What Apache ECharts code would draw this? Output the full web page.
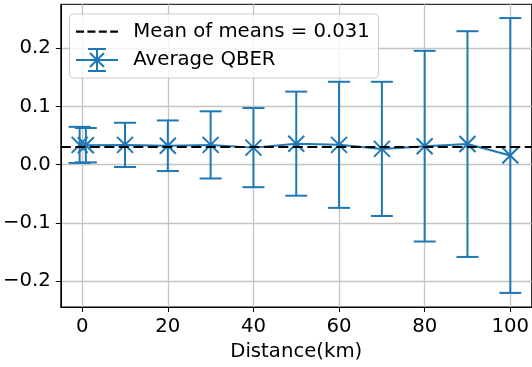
<!DOCTYPE html>
<html>
<head>
<meta charset="utf-8">
<script src="https://cdn.jsdelivr.net/npm/echarts@6/dist/echarts.min.js"></script>
<style>html,body{margin:0;padding:0;background:#fff}#c{width:532px;height:367px}</style>
</head>
<body>
<div id="c"></div>
<script>
// ---- data ----
const distances = [-0.6, 0.85, 10, 20, 30, 40, 50, 60, 70, 80, 90, 100];
const meanQBER  = [0.034, 0.0335, 0.034, 0.0325, 0.034, 0.0293, 0.0361, 0.0341, 0.0271, 0.0318, 0.0354, 0.0158];
const stdQBER   = [0.031, 0.0295, 0.038, 0.0435, 0.0577, 0.068, 0.0894, 0.1083, 0.1153, 0.1638, 0.1939, 0.2361];
const meanOfMeans = 0.031;
const xTicks = [0, 20, 40, 60, 80, 100];
const yTicks = [-0.2, -0.1, 0.0, 0.1, 0.2];
const legendLabels = ['Mean of means = 0.031', 'Average QBER'];
const xName = 'Distance(km)';

const BLUE = '#1f77b4';
const FONT = 'DejaVu Sans';
const FS = 19.7;

const pts = distances.map((d, i) => [d, meanQBER[i]]);
const errData = distances.map((d, i) => [d, meanQBER[i], stdQBER[i]]);

function fmtY(v) {
  const s = Math.abs(v).toFixed(1);
  return v < -1e-9 ? '\u2212' + s : s;
}

const chart = echarts.init(document.getElementById('c'), null, {renderer: 'canvas'});
const LX = 69.5, LY = 14, LW = 309, LH = 64;
chart.setOption({
  animation: false,
  backgroundColor: '#fff',
  grid: {
    left: 59.1, top: 4.3, width: 474.9, height: 308.4,
    show: true, borderColor: '#000', borderWidth: 1, backgroundColor: 'transparent'
  },
  xAxis: {
    type: 'value', min: -5, max: 105,
    name: xName, nameLocation: 'middle', nameGap: 35,
    nameTextStyle: {fontFamily: FONT, fontSize: FS, color: '#000'},
    axisLine: {show: true, onZero: false, lineStyle: {color: '#000', width: 1}},
    axisTick: {show: true, length: 5, lineStyle: {color: '#000'}, customValues: xTicks},
    axisLabel: {fontFamily: FONT, fontSize: FS, color: '#000', margin: 10, customValues: xTicks,
                formatter: v => String(Math.round(v))},
    splitLine: {show: true, lineStyle: {color: '#c4c4c4', width: 1.3}}
  },
  yAxis: {
    type: 'value', min: -0.24452, max: 0.27555,
    axisLine: {show: true, onZero: false, lineStyle: {color: '#000', width: 1}},
    axisTick: {show: true, length: 5, lineStyle: {color: '#000'}, customValues: yTicks},
    axisLabel: {fontFamily: FONT, fontSize: FS, color: '#000', margin: 10, customValues: yTicks,
                formatter: fmtY},
    splitLine: {show: true, lineStyle: {color: '#c4c4c4', width: 1.3}}
  },
  series: [
    {
      type: 'line', data: pts, showSymbol: false, silent: true, z: 3,
      lineStyle: {color: BLUE, width: 2},
      markLine: {
        silent: true, symbol: ['none', 'none'], label: {show: false},
        lineStyle: {color: '#000', width: 2.2, type: [10, 4.5]},
        data: [{yAxis: meanOfMeans}]
      }
    },
    {
      type: 'custom', data: errData, silent: true, z: 4,
      renderItem: function (params, api) {
        const x = api.value(0), m = api.value(1), e = api.value(2);
        const c = api.coord([x, m]);
        const t = api.coord([x, m + e]);
        const b = api.coord([x, m - e]);
        const cap = 11, mk = 8;
        const st = {stroke: BLUE, lineWidth: 2, fill: null};
        return {
          type: 'group',
          children: [
            {type: 'line', shape: {x1: t[0], y1: t[1], x2: b[0], y2: b[1]}, style: st},
            {type: 'line', shape: {x1: t[0] - cap, y1: t[1], x2: t[0] + cap, y2: t[1]}, style: st},
            {type: 'line', shape: {x1: b[0] - cap, y1: b[1], x2: b[0] + cap, y2: b[1]}, style: st},
            {type: 'line', shape: {x1: c[0] - mk, y1: c[1] - mk, x2: c[0] + mk, y2: c[1] + mk}, style: st},
            {type: 'line', shape: {x1: c[0] - mk, y1: c[1] + mk, x2: c[0] + mk, y2: c[1] - mk}, style: st}
          ]
        };
      }
    }
  ],
  graphic: [
    {type: 'rect', z: 100, shape: {x: LX, y: LY, width: LW, height: LH, r: 4},
     style: {fill: 'rgba(255,255,255,0.8)', stroke: '#cccccc', lineWidth: 1}},
    {type: 'line', z: 101, shape: {x1: 76, y1: 31.7, x2: 118, y2: 31.7},
     style: {stroke: '#000', lineWidth: 2.2, lineDash: [8, 3.4]}},
    {type: 'text', z: 101, x: 133.3, y: 31.7,
     style: {text: legendLabels[0], fontFamily: FONT, fontSize: FS, fill: '#000', verticalAlign: 'middle'}},
    {type: 'line', z: 101, shape: {x1: 76, y1: 60, x2: 118, y2: 60}, style: {stroke: BLUE, lineWidth: 2}},
    {type: 'line', z: 101, shape: {x1: 97, y1: 49, x2: 97, y2: 71}, style: {stroke: BLUE, lineWidth: 2}},
    {type: 'line', z: 101, shape: {x1: 88, y1: 49, x2: 106, y2: 49}, style: {stroke: BLUE, lineWidth: 2}},
    {type: 'line', z: 101, shape: {x1: 88, y1: 71, x2: 106, y2: 71}, style: {stroke: BLUE, lineWidth: 2}},
    {type: 'line', z: 101, shape: {x1: 90, y1: 53, x2: 104, y2: 67}, style: {stroke: BLUE, lineWidth: 2}},
    {type: 'line', z: 101, shape: {x1: 90, y1: 67, x2: 104, y2: 53}, style: {stroke: BLUE, lineWidth: 2}},
    {type: 'text', z: 101, x: 133.3, y: 60,
     style: {text: legendLabels[1], fontFamily: FONT, fontSize: FS, fill: '#000', verticalAlign: 'middle'}}
  ]
});
</script>
</body>
</html>
